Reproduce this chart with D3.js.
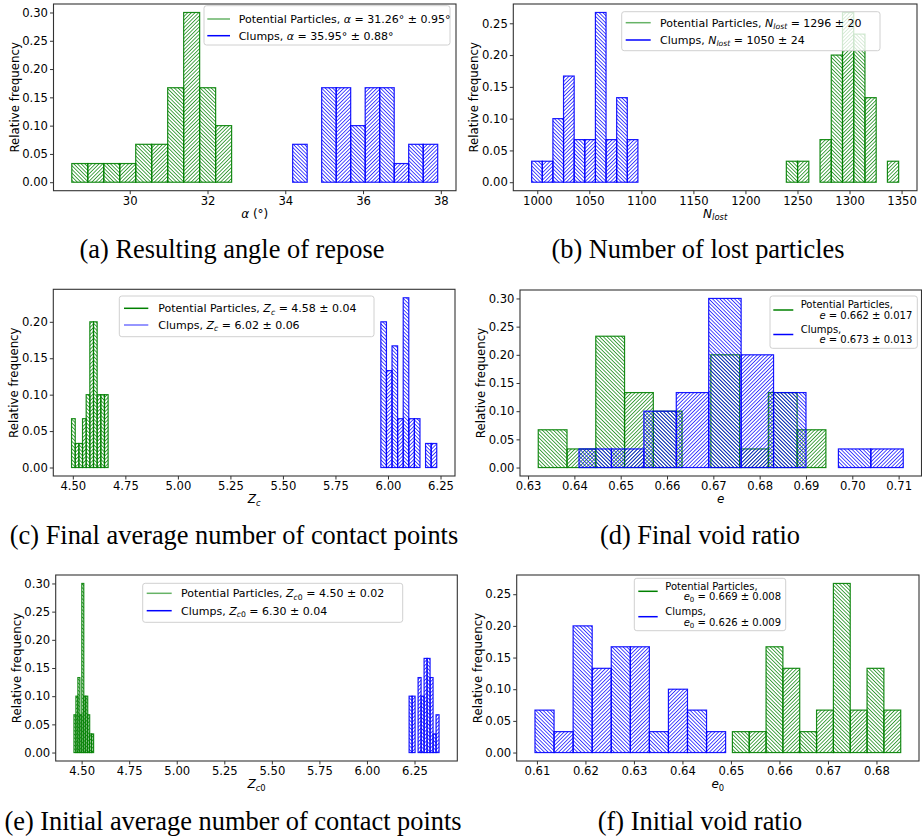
<!DOCTYPE html>
<html>
<head>
<meta charset="utf-8">
<script src="https://cdn.jsdelivr.net/npm/d3@7"></script>
<style>
  body { margin: 0; background: #fff; }
  svg { display: block; }
</style>
</head>
<body>
<svg id="fig" width="922" height="840"></svg>
<script>
// ---- data (relative frequencies, 30 runs per series) ----
// (a) angle of repose
var aGreenRange = [28.51, 32.62];
var aGreenFreq = [0.033, 0.033, 0.033, 0.033, 0.067, 0.067, 0.167, 0.3, 0.167, 0.1];
var aBlueRange = [34.19, 37.92];
var aBlueFreq = [0.067, 0, 0.167, 0.167, 0.1, 0.167, 0.167, 0.033, 0.067, 0.067];
var aXTicks = [30, 32, 34, 36, 38];
var aYTicks = [0, 0.05, 0.10, 0.15, 0.20, 0.25, 0.30];

// (b) lost particles
var bGreenRange = [1239.3, 1347.2];
var bGreenFreq = [0.033, 0.033, 0, 0.067, 0.2, 0.267, 0.233, 0.133, 0, 0.033];
var bBlueRange = [994.6, 1096.7];
var bBlueFreq = [0.033, 0.033, 0.1, 0.167, 0.067, 0.067, 0.267, 0.067, 0.133, 0.067];
var bXTicks = [1000, 1050, 1100, 1150, 1200, 1250, 1300, 1350];
var bYTicks = [0, 0.05, 0.10, 0.15, 0.20, 0.25];

// (c) final contact points
var cGreenRange = [4.494, 4.668];
var cGreenFreq = [0.067, 0.033, 0.033, 0.067, 0.1, 0.2, 0.2, 0.1, 0.1, 0.1];
var cBlueRange = [5.966, 6.232];
var cBlueFreq = [0.2, 0.133, 0.167, 0.067, 0.233, 0.067, 0.067, 0, 0.033, 0.033];
var cXTicks = [4.5, 4.75, 5.0, 5.25, 5.5, 5.75, 6.0, 6.25];
var cYTicks = [0, 0.05, 0.10, 0.15, 0.20];

// (d) final void ratio
var dGreenRange = [0.6322, 0.6943];
var dGreenFreq = [0.067, 0.033, 0.233, 0.133, 0.1, 0, 0.2, 0.033, 0.133, 0.067];
var dBlueRange = [0.6410, 0.7110];
var dBlueFreq = [0.033, 0.033, 0.1, 0.133, 0.3, 0.2, 0.133, 0, 0.033, 0.033];
var dXTicks = [0.63, 0.64, 0.65, 0.66, 0.67, 0.68, 0.69, 0.70, 0.71];
var dYTicks = [0, 0.05, 0.10, 0.15, 0.20, 0.25, 0.30];

// (e) initial contact points
var eGreenRange = [4.4596, 4.5629];
var eGreenFreq = [0.067, 0.1, 0.133, 0.067, 0.3, 0.1, 0.1, 0.067, 0.033, 0.033];
var eBlueRange = [6.2216, 6.379];
var eBlueFreq = [0.1, 0.1, 0, 0.133, 0.1, 0.167, 0.167, 0.133, 0.033, 0.067];
var eXTicks = [4.5, 4.75, 5.0, 5.25, 5.5, 5.75, 6.0, 6.25];
var eYTicks = [0, 0.05, 0.10, 0.15, 0.20, 0.25, 0.30];

// (f) initial void ratio
var fGreenRange = [0.6503, 0.6850];
var fGreenFreq = [0.033, 0.033, 0.167, 0.133, 0.033, 0.067, 0.267, 0.067, 0.133, 0.067];
var fBlueRange = [0.6096, 0.6489];
var fBlueFreq = [0.067, 0.033, 0.2, 0.133, 0.167, 0.167, 0.033, 0.1, 0.067, 0.033];
var fXTicks = [0.61, 0.62, 0.63, 0.64, 0.65, 0.66, 0.67, 0.68];
var fYTicks = [0, 0.05, 0.10, 0.15, 0.20, 0.25];

var colors = { green: "#008000", blue: "#0000ff" };
var sansFont = "DejaVu Sans, sans-serif";

var svg = d3.select("#fig");
svg.append("rect").attr("width", 922).attr("height", 840).attr("fill", "#fff");

// hatch patterns: F = "/", B = "\"
var defs = svg.append("defs");
["green", "blue"].forEach(function (c) {
    [["F", 45], ["B", -45]].forEach(function (h) {
        var p = defs.append("pattern")
            .attr("id", c + h[0])
            .attr("width", 2.6).attr("height", 2.6)
            .attr("patternUnits", "userSpaceOnUse")
            .attr("patternTransform", "rotate(" + h[1] + ")");
        p.append("line")
            .attr("x1", 1.3).attr("x2", 1.3).attr("y1", 0).attr("y2", 2.6)
            .attr("stroke", colors[c]).attr("stroke-width", 0.9)
            .attr("stroke-opacity", 0.8);
    });
});

function rich(text, parts, size) {
    var sub = false;
    parts.forEach(function (p) {
        var t = text.append("tspan").text(p.t);
        if (p.it) t.attr("font-style", "italic");
        if (p.sub) t.attr("font-size", size * 0.7);
        if (p.sub && !sub) t.attr("dy", size * 0.22);
        if (!p.sub && sub) t.attr("dy", -size * 0.22);
        sub = !!p.sub;
    });
}

function bins(range, freq) {
    var w = (range[1] - range[0]) / freq.length;
    return freq.map(function (f, i) {
        return { x0: range[0] + i * w, x1: range[0] + (i + 1) * w, f: f, i: i };
    }).filter(function (d) { return d.f > 0; });
}

function drawPanel(p) {
    var lo = Math.min(p.green[0][0], p.blue[0][0]);
    var hi = Math.max(p.green[0][1], p.blue[0][1]);
    var pad = (hi - lo) * 0.05;
    var yMax = d3.max(p.green[1].concat(p.blue[1]));

    var x = d3.scaleLinear().domain([lo - pad, hi + pad]).range([p.left, p.right]);
    var y = d3.scaleLinear().domain([-0.05 * yMax, 1.05 * yMax]).range([p.bottom, p.top]);

    var g = svg.append("g");

    [["green", p.green], ["blue", p.blue]].forEach(function (s) {
        g.append("g").selectAll("rect")
            .data(bins(s[1][0], s[1][1]))
            .enter().append("rect")
            .attr("x", function (d) { return x(d.x0); })
            .attr("y", function (d) { return y(d.f); })
            .attr("width", function (d) { return x(d.x1) - x(d.x0); })
            .attr("height", function (d) { return y(0) - y(d.f); })
            .attr("fill", function (d) { return "url(#" + s[0] + (d.i % 2 ? "F" : "B") + ")"; })
            .attr("stroke", colors[s[0]])
            .attr("stroke-width", 1.2)
            .attr("stroke-opacity", 0.9);
    });

    var xAxis = g.append("g")
        .attr("transform", "translate(0," + p.bottom + ")")
        .call(d3.axisBottom(x).tickValues(p.xTicks).tickFormat(d3.format(p.xFmt))
            .tickSize(3.5).tickPadding(2.5));
    var yAxis = g.append("g")
        .attr("transform", "translate(" + p.left + ",0)")
        .call(d3.axisLeft(y).tickValues(p.yTicks).tickFormat(d3.format(".2f"))
            .tickSize(3.5).tickPadding(2));
    [xAxis, yAxis].forEach(function (a) {
        a.select(".domain").remove();
        a.selectAll("line").attr("stroke", "#333");
        a.selectAll("text").attr("font-size", 11.6).attr("font-family", sansFont).attr("fill", "#000");
    });

    g.append("rect")
        .attr("x", p.left).attr("y", p.top)
        .attr("width", p.right - p.left).attr("height", p.bottom - p.top)
        .attr("fill", "none").attr("stroke", "#333").attr("stroke-width", 1.1);

    var xl = g.append("text")
        .attr("x", (p.left + p.right) / 2).attr("y", p.bottom + 27)
        .attr("text-anchor", "middle")
        .attr("font-family", sansFont).attr("font-size", 12);
    rich(xl, p.xLabel, 12);

    g.append("text")
        .attr("transform", "translate(" + (p.left - 39) + "," + ((p.top + p.bottom) / 2) + ") rotate(-90)")
        .attr("text-anchor", "middle").attr("dy", "0.35em")
        .attr("font-family", sansFont).attr("font-size", 11.8)
        .text("Relative frequency");

    // legend
    var L = p.legend;
    var lg = g.append("g");
    lg.append("rect")
        .attr("x", L.box[0]).attr("y", L.box[1])
        .attr("width", L.box[2] - L.box[0]).attr("height", L.box[3] - L.box[1])
        .attr("rx", 2.5)
        .attr("fill", "#fff").attr("fill-opacity", 0.8)
        .attr("stroke", "#d0d0d0").attr("stroke-width", 1);
    L.entries.forEach(function (e, k) {
        lg.append("line")
            .attr("x1", L.handle[0]).attr("x2", L.handle[1])
            .attr("y1", L.rows[k]).attr("y2", L.rows[k])
            .attr("stroke", colors[e.color]).attr("stroke-width", 1.5)
            .attr("stroke-opacity", e.alpha);
        if (e.lines) {
            var t1 = lg.append("text")
                .attr("x", L.textX).attr("y", L.rows[k] - L.gap / 2 + L.size * 0.36)
                .attr("font-family", sansFont).attr("font-size", L.size);
            rich(t1, e.lines[0], L.size);
            var t2 = lg.append("text")
                .attr("x", L.textR).attr("y", L.rows[k] + L.gap / 2 + L.size * 0.36)
                .attr("text-anchor", "end")
                .attr("font-family", sansFont).attr("font-size", L.size);
            rich(t2, e.lines[1], L.size);
        } else {
            var t = lg.append("text")
                .attr("x", L.textX).attr("y", L.rows[k] + L.size * 0.36)
                .attr("font-family", sansFont).attr("font-size", L.size);
            rich(t, e.parts, L.size);
        }
    });

    svg.append("text")
        .attr("x", p.capX).attr("y", p.capY)
        .attr("text-anchor", "middle")
        .attr("font-family", "Liberation Serif, serif").attr("font-size", 26.4)
        .text(p.caption);
}

var PP = { t: "Potential Particles, " };
var CL = { t: "Clumps, " };

var panels = [
    {
        left: 53.5, right: 456, top: 4, bottom: 190.7,
        green: [aGreenRange, aGreenFreq], blue: [aBlueRange, aBlueFreq],
        xTicks: aXTicks, yTicks: aYTicks, xFmt: "d",
        xLabel: [{ t: "α", it: 1 }, { t: " (°)" }],
        legend: {
            box: [204, 5.7, 450, 45], handle: [207.3, 230], textX: 238.7, rows: [19, 35.7], size: 11,
            entries: [
                { color: "green", alpha: 0.6, parts: [PP, { t: "α", it: 1 }, { t: " = 31.26° ± 0.95°" }] },
                { color: "blue", alpha: 1, parts: [CL, { t: "α", it: 1 }, { t: " = 35.95° ± 0.88°" }] }
            ]
        },
        caption: "(a) Resulting angle of repose", capX: 232, capY: 258
    },
    {
        left: 513.3, right: 917, top: 4, bottom: 190.7,
        green: [bGreenRange, bGreenFreq], blue: [bBlueRange, bBlueFreq],
        xTicks: bXTicks, yTicks: bYTicks, xFmt: "d",
        xLabel: [{ t: "N", it: 1 }, { t: "lost", it: 1, sub: 1 }],
        legend: {
            box: [621.7, 11.7, 880, 50.7], handle: [625.7, 650.7], textX: 660, rows: [22.7, 40], size: 11,
            entries: [
                { color: "green", alpha: 0.6, parts: [PP, { t: "N", it: 1 }, { t: "lost", it: 1, sub: 1 }, { t: " = 1296 ± 20" }] },
                { color: "blue", alpha: 1, parts: [CL, { t: "N", it: 1 }, { t: "lost", it: 1, sub: 1 }, { t: " = 1050 ± 24" }] }
            ]
        },
        caption: "(b) Number of lost particles", capX: 698, capY: 258
    },
    {
        left: 53.3, right: 455, top: 289.3, bottom: 476,
        green: [cGreenRange, cGreenFreq], blue: [cBlueRange, cBlueFreq],
        xTicks: cXTicks, yTicks: cYTicks, xFmt: ".2f",
        xLabel: [{ t: "Z", it: 1 }, { t: "c", it: 1, sub: 1 }],
        legend: {
            box: [119.3, 296, 374, 336.7], handle: [124, 148.3], textX: 158.3, rows: [308.3, 325], size: 11,
            entries: [
                { color: "green", alpha: 1, parts: [PP, { t: "Z", it: 1 }, { t: "c", it: 1, sub: 1 }, { t: " = 4.58 ± 0.04" }] },
                { color: "blue", alpha: 0.55, parts: [CL, { t: "Z", it: 1 }, { t: "c", it: 1, sub: 1 }, { t: " = 6.02 ± 0.06" }] }
            ]
        },
        caption: "(c) Final average number of contact points", capX: 234, capY: 544
    },
    {
        left: 520, right: 921.5, top: 290, bottom: 476,
        green: [dGreenRange, dGreenFreq], blue: [dBlueRange, dBlueFreq],
        xTicks: dXTicks, yTicks: dYTicks, xFmt: ".2f",
        xLabel: [{ t: "e", it: 1 }],
        legend: {
            box: [770, 296, 917.3, 348.3], handle: [773.3, 793.3], textX: 800.7, textR: 912.3,
            rows: [310, 334.5], gap: 10.5, size: 10,
            entries: [
                { color: "green", alpha: 1, lines: [[{ t: "Potential Particles," }], [{ t: "e", it: 1 }, { t: " = 0.662 ± 0.017" }]] },
                { color: "blue", alpha: 1, lines: [[{ t: "Clumps," }], [{ t: "e", it: 1 }, { t: " = 0.673 ± 0.013" }]] }
            ]
        },
        caption: "(d) Final void ratio", capX: 700, capY: 544
    },
    {
        left: 55.7, right: 457.3, top: 575, bottom: 761,
        green: [eGreenRange, eGreenFreq], blue: [eBlueRange, eBlueFreq],
        xTicks: eXTicks, yTicks: eYTicks, xFmt: ".2f",
        xLabel: [{ t: "Z", it: 1 }, { t: "c", it: 1, sub: 1 }, { t: "0", sub: 1 }],
        legend: {
            box: [142.7, 583.3, 402.7, 622.3], handle: [146.7, 171.7], textX: 181, rows: [593.3, 610.7], size: 11,
            entries: [
                { color: "green", alpha: 0.6, parts: [PP, { t: "Z", it: 1 }, { t: "c", it: 1, sub: 1 }, { t: "0", sub: 1 }, { t: " = 4.50 ± 0.02" }] },
                { color: "blue", alpha: 1, parts: [CL, { t: "Z", it: 1 }, { t: "c", it: 1, sub: 1 }, { t: "0", sub: 1 }, { t: " = 6.30 ± 0.04" }] }
            ]
        },
        caption: "(e) Initial average number of contact points", capX: 233, capY: 830
    },
    {
        left: 516.7, right: 919, top: 575, bottom: 761,
        green: [fGreenRange, fGreenFreq], blue: [fBlueRange, fBlueFreq],
        xTicks: fXTicks, yTicks: fYTicks, xFmt: ".2f",
        xLabel: [{ t: "e", it: 1 }, { t: "0", sub: 1 }],
        legend: {
            box: [634.3, 578.3, 785.7, 630.7], handle: [638.3, 657.7], textX: 665.3, textR: 781,
            rows: [591.3, 616.7], gap: 10.5, size: 10,
            entries: [
                { color: "green", alpha: 1, lines: [[{ t: "Potential Particles," }], [{ t: "e", it: 1 }, { t: "0", sub: 1 }, { t: " = 0.669 ± 0.008" }]] },
                { color: "blue", alpha: 1, lines: [[{ t: "Clumps," }], [{ t: "e", it: 1 }, { t: "0", sub: 1 }, { t: " = 0.626 ± 0.009" }]] }
            ]
        },
        caption: "(f) Initial void ratio", capX: 700, capY: 830
    }
];

panels.forEach(drawPanel);
</script>
</body>
</html>
